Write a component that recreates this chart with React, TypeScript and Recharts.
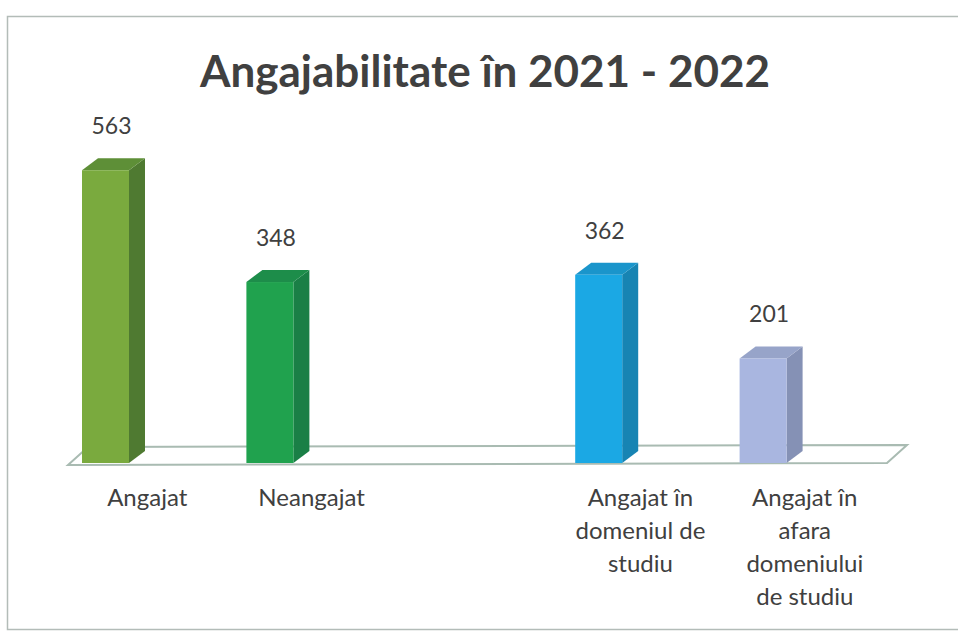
import { BarChart, Bar, XAxis, YAxis, Cell } from 'recharts';

// chart data
const categories = [
    'Angajat',
    'Neangajat',
    '',
    'Angajat în\ndomeniul de\nstudiu',
    'Angajat în\nafara\ndomeniului\nde studiu',
];
const values: (number | null)[] = [563, 348, null, 362, 201];

const title = 'Angajabilitate în 2021 - 2022';

// front / side / top shades per bar
const frontColors = ['#7aaa3e', '#20a24e', '', '#1ba8e4', '#a9b6e0'];
const sideColors = ['#4f7a31', '#1a7f46', '', '#1784b3', '#8591b5'];
const topColors = ['#5e8f37', '#1d8d4a', '', '#1a95cb', '#97a4c9'];

const data = categories.map((name, i) => ({ name, value: values[i], idx: i }));

const W = 958;
const H = 632;
const DEPTH_X = 16;
const DEPTH_Y = 12;
const TEXT = '#404040';
const FONT = 'Lato, "Open Sans", sans-serif';

const Bar3D = (props: any) => {
    const { x, y, width, height, payload } = props;
    if (payload == null || payload.value == null || !height) return null;
    const i = payload.idx;
    const r = x + width;
    const b = y + height;
    return (
        <g>
            <polygon
                points={`${r},${y} ${r + DEPTH_X},${y - DEPTH_Y} ${r + DEPTH_X},${b - DEPTH_Y} ${r},${b}`}
                fill={sideColors[i]}
            />
            <polygon
                points={`${x},${y} ${x + DEPTH_X},${y - DEPTH_Y} ${r + DEPTH_X},${y - DEPTH_Y} ${r},${y}`}
                fill={topColors[i]}
            />
            <rect x={x} y={y} width={width} height={height} fill={frontColors[i]} />
        </g>
    );
};

const renderValue = (props: any) => {
    const { x, y, width, value } = props;
    if (value == null) return null;
    return (
        <text
            x={x + width / 2 + 6}
            y={y - 36}
            textAnchor="middle"
            fontFamily={FONT}
            fontSize={23}
            fill={TEXT}
        >
            {value}
        </text>
    );
};

const CategoryTick = (props: any) => {
    const { x, payload } = props;
    const lines = String(payload.value).split('\n');
    return (
        <text
            x={x + 42}
            y={506}
            textAnchor="middle"
            fontFamily={FONT}
            fontSize={24}
            fill={TEXT}
        >
            {lines.map((line, k) => (
                <tspan key={k} x={x + 42} dy={k === 0 ? 0 : 33}>
                    {line}
                </tspan>
            ))}
        </text>
    );
};

export default function App() {
    return (
        <div style={{ position: 'absolute', left: 0, top: 0, width: W, height: H, background: '#fff' }}>
            <svg width={W} height={H} style={{ position: 'absolute', left: 0, top: 0 }}>
                <rect x={7.5} y={16.5} width={W + 10} height={613} fill="none" stroke="#b3bcb8" strokeWidth={1.5} />
                <text
                    x={485}
                    y={87}
                    textAnchor="middle"
                    fontFamily={FONT}
                    fontWeight="bold"
                    fontSize={44}
                    fill={TEXT}
                >
                    {title}
                </text>
                <polygon
                    points="68,465 887,463 907,445 88,447"
                    fill="#fff"
                    stroke="#a9bbb2"
                    strokeWidth={2}
                />
            </svg>
            <div style={{ position: 'absolute', left: 0, top: 0 }}>
                <BarChart
                    width={W}
                    height={H}
                    data={data}
                    margin={{ top: 151, right: 113, bottom: 0, left: 23 }}
                >
                    <YAxis hide domain={[0, 600]} />
                    <XAxis
                        dataKey="name"
                        height={169}
                        axisLine={false}
                        tickLine={false}
                        interval={0}
                        tick={<CategoryTick />}
                    />
                    <Bar
                        dataKey="value"
                        barSize={47}
                        shape={<Bar3D />}
                        label={renderValue}
                        isAnimationActive={false}
                    >
                        {data.map((d, i) => (
                            <Cell key={`cell-${i}`} fill={frontColors[i] || '#fff'} />
                        ))}
                    </Bar>
                </BarChart>
            </div>
        </div>
    );
}
